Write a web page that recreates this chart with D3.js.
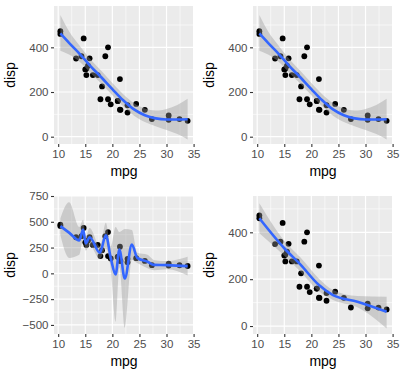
<!DOCTYPE html>
<html><head><meta charset="utf-8">
<script src="https://cdn.jsdelivr.net/npm/d3@7"></script>
<style>body{margin:0;background:#fff}svg{display:block}</style>
</head><body><svg id="c" width="400" height="379"></svg>
<script>
const mpg = [21.0,21.0,22.8,21.4,18.7,18.1,14.3,24.4,22.8,19.2,17.8,16.4,17.3,15.2,10.4,10.4,14.7,32.4,30.4,33.9,21.5,15.5,15.2,13.3,19.2,27.3,26.0,30.4,15.8,19.7,15.0,21.4];
const disp = [160,160,108,258,360,225,360,146.7,140.8,167.6,167.6,275.8,275.8,275.8,472,460,440,78.7,75.7,71.1,120.1,318,304,350,400,79,120.3,95.1,351,145,301,121];

const xTicks = [10,15,20,25,30,35];
const yTicksA = [0,200,400];
const yTicksC = [-500,-250,0,250,500,750];

// smooth 1 (default loess)
const s1x  = [10.4,12,14,16,18,20,22,24,26,28,30,32,33.9];
const s1y  = [462,420,370,315,265,213,163,122,96,82,77,77,78];
const s1lo = [385,368,334,284,236,186,136,94,66,47,30,12,-12];
const s1hi = [545,472,406,346,294,240,190,150,126,117,124,142,170];
// smooth 3 (small span)
const s3x  = [10.4,12,13.9,14.6,15.1,15.8,17.7,18.8,19.7,20.6,21.3,22.3,23.6,24.6,26.5,27.7,30.2,33.9];
const s3y  = [458,395,320,425,290,350,200,370,150,-10,230,-50,280,150,112,82,80,70];
const s3lo = [371,150,180,330,220,270,140,240,40,-470,60,-530,130,100,50,30,40,-20];
const s3hi = [533,690,450,520,360,440,260,490,260,450,400,430,420,200,180,130,120,160];
// smooth 4
const s4x  = [10.4,15,18,21.4,24,28.5,33.9];
const s4y  = [460,332,262,175,132,104,61];
const s4lo = [396,300,232,148,111,80,-10];
const s4hi = [524,364,292,202,154,128,125];

const panels = [
  {x0:54, y0:6,   yd:[-32.7,585], yt:yTicksA, yminor:[100,300,500], sx:s1x, sy:s1y, lo:s1lo, hi:s1hi},
  {x0:253,y0:6,   yd:[-32.7,585], yt:yTicksA, yminor:[100,300,500], sx:s1x, sy:s1y, lo:s1lo, hi:s1hi},
  {x0:54, y0:196, yd:[-588,750],  yt:yTicksC, yminor:[-375,-125,125,375,625], sx:s3x, sy:s3y, lo:s3lo, hi:s3hi},
  {x0:253,y0:196, yd:[-34,555],   yt:yTicksA, yminor:[100,300,500], sx:s4x, sy:s4y, lo:s4lo, hi:s4hi}
];
const W = 140, H = 138;
const svg = d3.select("#c");
const font = "Liberation Sans, Arial, sans-serif";

panels.forEach(p => {
  const g = svg.append("g").attr("transform", `translate(${p.x0},${p.y0})`);
  const x = d3.scaleLinear().domain([9.225,35.075]).range([0,W]);
  const y = d3.scaleLinear().domain(p.yd).range([H,0]);
  g.append("rect").attr("width",W).attr("height",H).attr("fill","#EBEBEB");
  const clip = "clip"+p.x0+"_"+p.y0;
  g.append("clipPath").attr("id",clip).append("rect").attr("width",W).attr("height",H);
  const gm = g.append("g").attr("clip-path",`url(#${clip})`);
  [12.5,17.5,22.5,27.5,32.5].forEach(v=>gm.append("line").attr("x1",x(v)).attr("x2",x(v)).attr("y1",0).attr("y2",H).attr("stroke","#fff").attr("stroke-width",0.6));
  p.yminor.forEach(v=>gm.append("line").attr("y1",y(v)).attr("y2",y(v)).attr("x1",0).attr("x2",W).attr("stroke","#fff").attr("stroke-width",0.6));
  xTicks.forEach(v=>gm.append("line").attr("x1",x(v)).attr("x2",x(v)).attr("y1",0).attr("y2",H).attr("stroke","#fff").attr("stroke-width",1.2));
  p.yt.forEach(v=>gm.append("line").attr("y1",y(v)).attr("y2",y(v)).attr("x1",0).attr("x2",W).attr("stroke","#fff").attr("stroke-width",1.2));
  gm.selectAll("circle").data(mpg.map((m,i)=>[m,disp[i]])).join("circle")
    .attr("cx",d=>x(d[0])).attr("cy",d=>y(d[1])).attr("r",2.9).attr("fill","#000");
  const idx = p.sx.map((_,i)=>i);
  gm.append("path").datum(idx).attr("fill","#999999").attr("fill-opacity",0.4)
    .attr("d", d3.area().x(i=>x(p.sx[i])).y0(i=>y(p.lo[i])).y1(i=>y(p.hi[i])).curve(d3.curveMonotoneX));
  gm.append("path").datum(idx).attr("fill","none").attr("stroke","#3366FF").attr("stroke-width",2.6)
    .attr("d", d3.line().x(i=>x(p.sx[i])).y(i=>y(p.sy[i])).curve(d3.curveMonotoneX));
  const ax = g.append("g").attr("transform",`translate(0,${H})`).call(d3.axisBottom(x).tickValues(xTicks).tickSize(3).tickPadding(2.5));
  const ay = g.append("g").call(d3.axisLeft(y).tickValues(p.yt).tickSize(3).tickPadding(2.5));
  [ax,ay].forEach(a=>{a.select(".domain").remove();a.selectAll(".tick line").attr("stroke","#333333").attr("stroke-width",1.1);
    a.selectAll("text").attr("fill","#4D4D4D").style("font-family",font).style("font-size","11.5px");});
  g.append("text").attr("x",W/2).attr("y",H+32).attr("text-anchor","middle").style("font-family",font).style("font-size","14px").attr("fill","#000").text("mpg");
  g.append("text").attr("transform",`translate(-39,${H/2}) rotate(-90)`).attr("text-anchor","middle").style("font-family",font).style("font-size","14px").attr("fill","#000").text("disp");
});
</script></body></html>
